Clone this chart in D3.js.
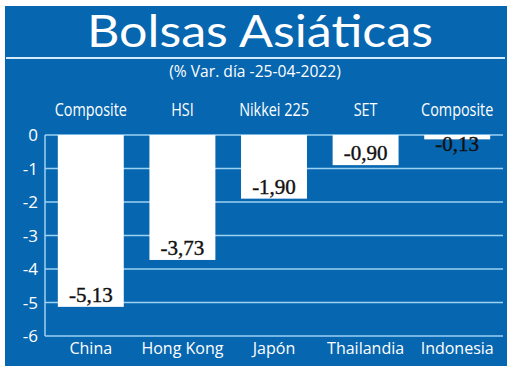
<!DOCTYPE html>
<html>
<head>
<meta charset="utf-8">
<script src="https://cdn.jsdelivr.net/npm/d3@7"></script>
<style>
  html, body { margin: 0; padding: 0; background: #fff; }
</style>
</head>
<body>
<div id="viz"></div>
<script>
const WIDTH = 520;
const HEIGHT = 371;

const countries = ["China", "Hong Kong", "Japón", "Thailandia", "Indonesia"];
const indices = ["Composite", "HSI", "Nikkei 225", "SET", "Composite"];
const changes = [-5.13, -3.73, -1.90, -0.90, -0.13];
const yTicks = [0, -1, -2, -3, -4, -5, -6];

const BLUE = "#0766b0";
const GRID = "#9dd2f3";
const SANS = "'Open Sans', 'Noto Sans', sans-serif";

// the print uses a condensed face; squeeze a regular one horizontally
const SQUEEZE = 0.8;

const svg = d3.select("#viz").append("svg")
  .attr("width", WIDTH)
  .attr("height", HEIGHT);

// panel
svg.append("rect")
  .attr("x", 5).attr("y", 6)
  .attr("width", 502).attr("height", 360)
  .attr("fill", BLUE);

// title block
svg.append("text")
  .attr("x", 260).attr("y", 47)
  .attr("text-anchor", "middle")
  .attr("fill", "#fff")
  .attr("font-family", "Lato, 'Open Sans', sans-serif")
  .attr("font-size", 44)
  .attr("textLength", 346)
  .attr("lengthAdjust", "spacingAndGlyphs")
  .text("Bolsas Asiáticas");

svg.append("line")
  .attr("x1", 6).attr("x2", 505)
  .attr("y1", 58).attr("y2", 58)
  .attr("stroke", "#d6ebf9")
  .attr("stroke-width", 2);

svg.append("text")
  .attr("transform", "translate(255,77) scale(0.92,1)")
  .attr("text-anchor", "middle")
  .attr("fill", "#fff")
  .attr("font-family", SANS)
  .attr("font-size", 17)
  .text("(% Var. día -25-04-2022)");

// scales
const x = d3.scaleBand()
  .domain(countries)
  .range([45, 503])
  .paddingInner(0.28)
  .paddingOuter(0.14);

const y = d3.scaleLinear()
  .domain([0, -6])
  .range([135, 336]);

const fmt = v => v.toFixed(2).replace(".", ",");

// gridlines + axis
svg.append("g")
  .selectAll("line")
  .data(yTicks)
  .join("line")
  .attr("x1", 45).attr("x2", 503)
  .attr("y1", d => y(d)).attr("y2", d => y(d))
  .attr("stroke", GRID)
  .attr("stroke-width", 1.5);

svg.append("line")
  .attr("x1", 45).attr("x2", 45)
  .attr("y1", y(0)).attr("y2", y(-6))
  .attr("stroke", GRID)
  .attr("stroke-width", 1.5);

svg.append("g")
  .selectAll("text")
  .data(yTicks)
  .join("text")
  .attr("x", 38)
  .attr("y", d => y(d))
  .attr("dy", "0.36em")
  .attr("text-anchor", "end")
  .attr("fill", "#fff")
  .attr("font-family", SANS)
  .attr("font-size", 17)
  .text(d => String(d));

// bars
const bars = svg.append("g")
  .selectAll("g")
  .data(countries.map((c, i) => ({ country: c, index: indices[i], value: changes[i] })))
  .join("g");

bars.append("rect")
  .attr("x", d => x(d.country))
  .attr("y", y(0))
  .attr("width", x.bandwidth())
  .attr("height", d => y(d.value) - y(0))
  .attr("fill", "#fff");

bars.append("text")
  .attr("x", d => x(d.country) + x.bandwidth() / 2)
  .attr("y", d => Math.max(y(d.value) - 5, y(0) + 16))
  .attr("text-anchor", "middle")
  .attr("fill", "#111")
  .attr("font-family", "'Liberation Serif', 'DejaVu Serif', serif")
  .attr("font-size", 21)
  .attr("stroke", "#111")
  .attr("stroke-width", 0.4)
  .text(d => fmt(d.value));

// index names on top
bars.append("text")
  .attr("transform", d => `translate(${x(d.country) + x.bandwidth() / 2},116) scale(${SQUEEZE},1)`)
  .attr("text-anchor", "middle")
  .attr("fill", "#fff")
  .attr("font-family", SANS)
  .attr("font-size", 18)
  .text(d => d.index);

// country names at bottom
bars.append("text")
  .attr("x", d => x(d.country) + x.bandwidth() / 2)
  .attr("y", 354)
  .attr("text-anchor", "middle")
  .attr("fill", "#fff")
  .attr("font-family", SANS)
  .attr("font-size", 16)
  .text(d => d.country);
</script>
</body>
</html>
